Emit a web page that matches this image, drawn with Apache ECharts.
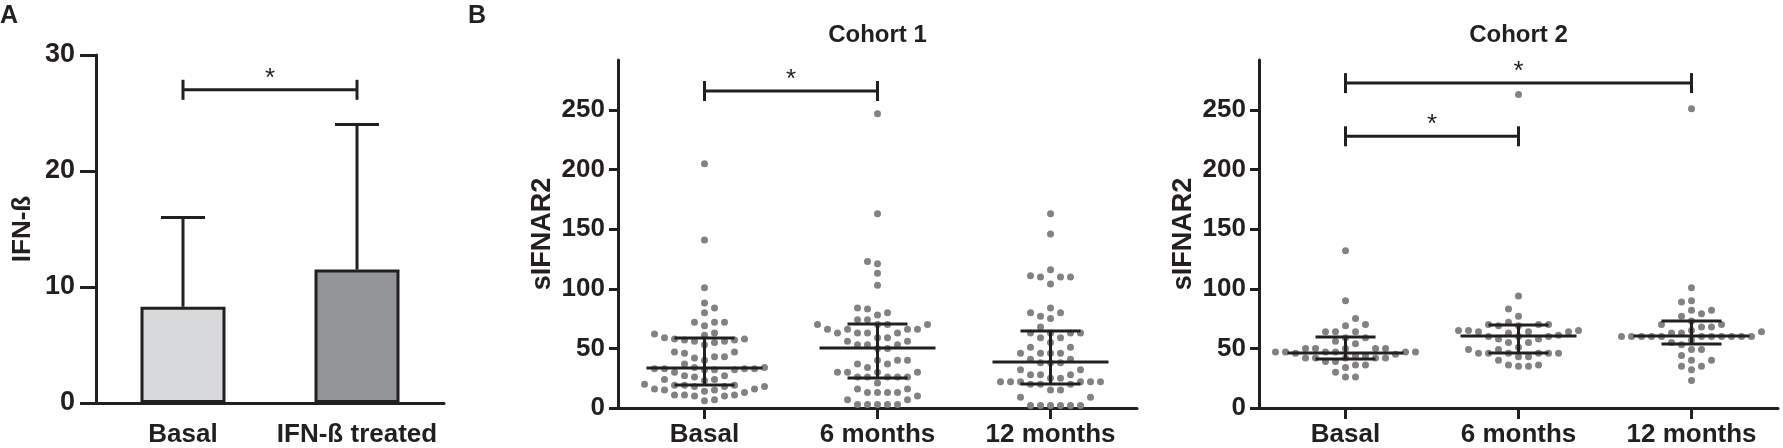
<!DOCTYPE html>
<html><head><meta charset="utf-8">
<script src="https://cdn.jsdelivr.net/npm/echarts@6/dist/echarts.min.js"></script>
<style>html,body{margin:0;padding:0;background:#fff}#c{width:1783px;height:448px}</style>
</head><body><div id="c"></div>
<script>
const FONT = '"Liberation Sans", Arial, sans-serif';
const INK = '#231f20';
const DOT = '#828282';

// ---------- Panel A ----------
const aCategories = ['Basal', 'IFN-ß treated'];
const aMeans = [8.3, 11.5];
const aUpper = [16, 24];
const aTicks = [0, 10, 20, 30];
const aSig = [[0, 1, 27, '*']];

// ---------- Panel B ----------
const bCategories = ['Basal', '6 months', '12 months'];
const bTicks = [0, 50, 100, 150, 200, 250];

const c1Basal = [205, 141, 101, 88, 84, 80, 72, 72, 72, 69, 63, 62, 61, 59, 58, 58, 57, 57, 56, 56, 55, 53, 47, 47, 46, 43, 43, 42, 40, 37, 34, 34, 33, 33, 33, 33, 32, 32, 32, 30, 27, 27, 26, 24, 24, 23, 20, 19, 19, 19, 18, 18, 18, 16, 16, 15, 15, 14, 13, 11, 11, 11, 10, 10, 7, 6];
const c1Month6 = [247, 163, 123, 121, 113, 103, 84, 83, 80, 78, 74, 74, 70, 70, 70, 70, 66, 66, 66, 66, 63, 63, 63, 63, 59, 59, 56, 56, 53, 53, 53, 50, 50, 40, 40, 40, 37, 37, 34, 30, 30, 30, 30, 26, 26, 26, 26, 26, 21, 16, 16, 13, 13, 13, 13, 10, 7, 7, 3, 3, 3, 3, 3];
const c1Month12 = [163, 146, 116, 111, 110, 110, 110, 104, 84, 80, 80, 77, 75, 68, 63, 63, 63, 63, 59, 59, 55, 51, 51, 46, 46, 46, 46, 41, 41, 38, 38, 38, 32, 32, 28, 28, 28, 25, 25, 22, 22, 22, 22, 22, 22, 20, 20, 20, 15, 15, 9, 9, 2, 2, 2, 2, 2, 2];
const c1Median = [33.6, 50.3, 38.6];
const c1Q1 = [19.3, 25.2, 20.1];
const c1Q3 = [58.7, 70.5, 64.6];
const c1Sig = [[0, 1, 266, '*']];

const c2Basal = [132, 90, 75, 70, 69, 64, 64, 64, 59, 59, 56, 54, 50, 50, 50, 50, 50, 47, 47, 47, 47, 47, 47, 46, 45, 44, 44, 42, 42, 42, 42, 42, 39, 39, 36, 36, 34, 30, 26, 26];
const c2Month6 = [263, 94, 83, 77, 72, 70, 70, 70, 69, 69, 65, 65, 65, 64, 64, 64, 63, 61, 60, 60, 60, 58, 58, 55, 55, 51, 49, 49, 46, 46, 46, 46, 46, 46, 43, 43, 40, 36, 36, 35, 35];
const c2Month12 = [251, 101, 90, 89, 82, 82, 79, 77, 73, 70, 70, 68, 68, 65, 64, 63, 63, 60, 60, 60, 60, 60, 60, 60, 60, 60, 60, 60, 57, 55, 53, 49, 49, 44, 40, 40, 35, 35, 32, 23];
const c2Median = [46.1, 60.4, 60.4];
const c2Q1 = [41.1, 46.1, 53.7];
const c2Q3 = [59.6, 69.6, 73.0];
const c2Sig = [[0, 2, 272.6, '*'], [0, 1, 228, '*']];

// ---------- layout ----------
const gridA = { left: 96, top: 55, width: 348, height: 350 };
const gridC1 = { left: 618, top: 60, width: 519, height: 348 };
const gridC2 = { left: 1259, top: 60, width: 519, height: 348 };
const B_MAX = 292;
const pxX = gridC1.width / bCategories.length;
const pxY = gridC1.height / B_MAX;

// beeswarm layout (horizontal offsets only; values unchanged)
function swarm(values, gi) {
  const step = 10, minD = 9.5;
  const placed = [];
  const sorted = values.slice().sort((a, b) => a - b);
  return sorted.map((v, n) => {
    const y = v * pxY;
    let dx = 0;
    for (let i = 0; i < 80; i++) {
      const cands = i === 0 ? [0] : (n % 2 ? [i * step, -i * step] : [-i * step, i * step]);
      let ok = null;
      for (const c of cands) {
        if (placed.every(p => (p.x - c) ** 2 + (p.y - y) ** 2 >= minD * minD)) { ok = c; break; }
      }
      if (ok !== null) { dx = ok; break; }
    }
    placed.push({ x: dx, y });
    return [gi + dx / pxX, v];
  });
}

const axisText = { fontFamily: FONT, fontWeight: 'bold', color: INK };

function bracketRender(params, api) {
  const p1 = api.coord([api.value(0), api.value(2)]);
  const p2 = api.coord([api.value(1), api.value(2)]);
  const y = p1[1];
  const s = { stroke: INK, lineWidth: 3 };
  return { type: 'group', children: [
    { type: 'line', shape: { x1: p1[0], y1: y, x2: p2[0], y2: y }, style: s },
    { type: 'line', shape: { x1: p1[0], y1: y - 10, x2: p1[0], y2: y + 10 }, style: s },
    { type: 'line', shape: { x1: p2[0], y1: y - 10, x2: p2[0], y2: y + 10 }, style: s },
    { type: 'text', style: { text: '*', x: (p1[0] + p2[0]) / 2, y: y - 11, align: 'center', verticalAlign: 'middle', textAlign: 'center', textVerticalAlign: 'middle', font: 'normal 26px ' + FONT, fill: INK } }
  ] };
}

function iqrRender(params, api) {
  const g = api.value(0);
  const lo = api.coord([g, api.value(1)]);
  const md = api.coord([g, api.value(2)]);
  const hi = api.coord([g, api.value(3)]);
  const s = { stroke: INK, lineWidth: 3 };
  const x = md[0];
  return { type: 'group', children: [
    { type: 'line', shape: { x1: x - 58, y1: md[1], x2: x + 58, y2: md[1] }, style: s },
    { type: 'line', shape: { x1: x, y1: lo[1], x2: x, y2: hi[1] }, style: s },
    { type: 'line', shape: { x1: x - 30, y1: lo[1], x2: x + 30, y2: lo[1] }, style: s },
    { type: 'line', shape: { x1: x - 30, y1: hi[1], x2: x + 30, y2: hi[1] }, style: s }
  ] };
}

function errRender(params, api) {
  const g = api.value(0);
  const b = api.coord([g, api.value(1)]);
  const t = api.coord([g, api.value(2)]);
  const s = { stroke: INK, lineWidth: 3 };
  return { type: 'group', children: [
    { type: 'line', shape: { x1: b[0], y1: b[1], x2: t[0], y2: t[1] }, style: s },
    { type: 'line', shape: { x1: t[0] - 22, y1: t[1], x2: t[0] + 22, y2: t[1] }, style: s }
  ] };
}

function cohortX(gridIndex) {
  const idx = bCategories.map((_, i) => i);
  return {
    type: 'value', gridIndex, min: -0.5, max: bCategories.length - 0.5,
    axisLine: { onZero: false, lineStyle: { color: INK, width: 3 } },
    axisTick: { customValues: idx, length: 11, lineStyle: { color: INK, width: 3 } },
    axisLabel: { customValues: idx, formatter: v => bCategories[Math.round(v)], margin: 14, fontSize: 26, ...axisText },
    splitLine: { show: false }
  };
}
function cohortY(gridIndex) {
  return {
    type: 'value', gridIndex, min: 0, max: B_MAX,
    name: 'sIFNAR2', nameLocation: 'middle', nameGap: 62,
    nameTextStyle: { fontSize: 27, ...axisText },
    axisLine: { show: true, onZero: false, lineStyle: { color: INK, width: 3 } },
    axisTick: { show: true, customValues: bTicks, length: 9, lineStyle: { color: INK, width: 3 } },
    axisLabel: { customValues: bTicks, margin: 13, fontSize: 26, ...axisText },
    splitLine: { show: false }
  };
}

const cohorts = [
  { groups: [c1Basal, c1Month6, c1Month12], med: c1Median, q1: c1Q1, q3: c1Q3, sig: c1Sig, axis: 1 },
  { groups: [c2Basal, c2Month6, c2Month12], med: c2Median, q1: c2Q1, q3: c2Q3, sig: c2Sig, axis: 2 }
];

const series = [
  { type: 'bar', xAxisIndex: 0, yAxisIndex: 0, barWidth: 85, silent: true,
    data: aMeans.map((v, i) => ({ value: v, itemStyle: { color: i === 0 ? '#d8d9db' : '#929497', borderColor: INK, borderWidth: 3 } })) },
  { type: 'custom', xAxisIndex: 0, yAxisIndex: 0, renderItem: errRender, z: 5, silent: true,
    data: aMeans.map((v, i) => [i, v, aUpper[i]]) },
  { type: 'custom', xAxisIndex: 0, yAxisIndex: 0, renderItem: bracketRender, z: 5, silent: true, clip: false,
    data: aSig }
];
cohorts.forEach(c => {
  const pts = [];
  c.groups.forEach((g, gi) => pts.push(...swarm(g, gi)));
  series.push({ type: 'scatter', xAxisIndex: c.axis, yAxisIndex: c.axis, symbolSize: 7, silent: true,
    itemStyle: { color: DOT, opacity: 1 }, data: pts, z: 2 });
  series.push({ type: 'custom', xAxisIndex: c.axis, yAxisIndex: c.axis, renderItem: iqrRender, z: 5, silent: true,
    data: c.med.map((m, i) => [i, c.q1[i], m, c.q3[i]]) });
  series.push({ type: 'custom', xAxisIndex: c.axis, yAxisIndex: c.axis, renderItem: bracketRender, z: 5, silent: true, clip: false,
    data: c.sig });
});

const chart = echarts.init(document.getElementById('c'), null, { renderer: 'canvas' });
chart.setOption({
  backgroundColor: '#ffffff',
  animation: false,
  grid: [gridA, gridC1, gridC2].map(g => ({ ...g, containLabel: false })),
  xAxis: [
    { type: 'category', gridIndex: 0, data: aCategories,
      axisLine: { onZero: false, lineStyle: { color: INK, width: 3 } },
      axisTick: { alignWithLabel: true, length: 15, lineStyle: { color: INK, width: 3 } },
      axisLabel: { interval: 0, margin: 19, fontSize: 26, ...axisText } },
    cohortX(1), cohortX(2)
  ],
  yAxis: [
    { type: 'value', gridIndex: 0, min: aTicks[0], max: aTicks[aTicks.length - 1], interval: 10,
      name: 'IFN-ß', nameLocation: 'middle', nameGap: 60,
      nameTextStyle: { fontSize: 26, ...axisText },
      axisLine: { show: true, onZero: false, lineStyle: { color: INK, width: 3 } },
      axisTick: { show: true, length: 16, lineStyle: { color: INK, width: 3 } },
      axisLabel: { margin: 21, fontSize: 27, ...axisText },
      splitLine: { show: false } },
    cohortY(1), cohortY(2)
  ],
  graphic: [
    { type: 'text', x: 0, y: 4, style: { text: 'A', font: 'bold 25px ' + FONT, fill: INK } },
    { type: 'text', x: 468, y: 4, style: { text: 'B', font: 'bold 25px ' + FONT, fill: INK } },
    { type: 'text', x: gridC1.left + pxX * 1.5, y: 35, style: { text: 'Cohort 1', font: 'bold 24px ' + FONT, fill: INK, align: 'center', verticalAlign: 'middle' } },
    { type: 'text', x: gridC2.left + pxX * 1.5, y: 35, style: { text: 'Cohort 2', font: 'bold 24px ' + FONT, fill: INK, align: 'center', verticalAlign: 'middle' } }
  ],
  series
});
</script></body></html>
